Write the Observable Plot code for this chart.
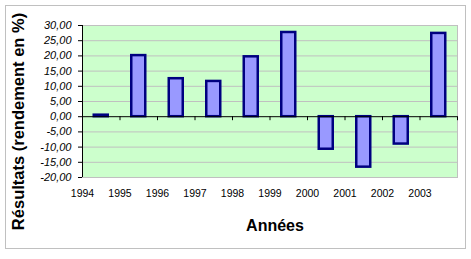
<!DOCTYPE html>
<html><head><meta charset="utf-8">
<script src="https://cdn.jsdelivr.net/npm/d3@7"></script>
<script src="https://cdn.jsdelivr.net/npm/@observablehq/plot@0.6"></script>
<style>
body{margin:0;background:#fff;}
#wrap{position:relative;width:471px;height:259px;overflow:hidden;}
#wrap svg{position:absolute;left:0;top:0;}
#border{position:absolute;left:5px;top:5px;width:459px;height:242px;border:1px solid #c0c0c0;pointer-events:none;}
</style></head><body><div id="wrap"><div id="border"></div></div>
<script>
const years = [1994, 1995, 1996, 1997, 1998, 1999, 2000, 2001, 2002, 2003];
const values = [0.5, 20.1, 12.5, 11.6, 19.7, 27.7, -10.7, -16.6, -9.0, 27.4];
const yTicks = [-20, -15, -10, -5, 0, 5, 10, 15, 20, 25, 30];
const gridValues = [-15, -10, -5, 5, 10, 15, 20, 25];
const boundaries = [1995, 1996, 1997, 1998, 1999, 2000, 2001, 2002, 2003, 2004];
const yTitle = "Résultats (rendement en %)";
const xTitle = "Années";

const data = years.map((year, i) => ({year, value: values[i]}));
const font = "Arial, 'Liberation Sans', sans-serif";

const chart = Plot.plot({
  width: 471,
  height: 259,
  marginLeft: 82,
  marginRight: 14,
  marginTop: 25,
  marginBottom: 82,
  style: {background: "transparent", fontFamily: font, color: "#000"},
  x: {type: "linear", domain: [1994, 2004]},
  y: {domain: [-20, 30]},
  marks: [
    Plot.frame({fill: "#ccffcc", stroke: "#c0c0c0"}),
    Plot.ruleY(gridValues, {stroke: "#c0c0c0", strokeWidth: 1}),
    Plot.rectY(data, {x: "year", y: "value", interval: 1, insetLeft: 11.75, insetRight: 11.75,
      fill: "#9999ff", stroke: "#000080", strokeWidth: 2.5}),
    Plot.ruleY([0], {stroke: "#000", strokeWidth: 1}),
    Plot.ruleX(boundaries, {x: d => d, y1: 0, y2: 0, insetBottom: -4, stroke: "#000"}),
    Plot.ruleX([1994], {stroke: "#000", strokeWidth: 1}),
    Plot.axisY({ticks: yTicks, tickSize: 4, tickPadding: 7, fontSize: 11, fontStyle: "italic",
      tickFormat: d => d.toFixed(2).replace(".", ","), label: null}),
    Plot.axisX({ticks: years, tickSize: 0, tickPadding: 12, fontSize: 10.5,
      tickFormat: d => String(d), label: null}),
    Plot.text([yTitle], {frameAnchor: "left", dx: -64, dy: 20, rotate: -90,
      textAnchor: "middle", lineAnchor: "middle",
      fontSize: 16.5, fontWeight: "bold", fill: "#000"}),
    Plot.text([xTitle], {frameAnchor: "bottom", dx: 5, dy: 48,
      textAnchor: "middle", lineAnchor: "middle",
      fontSize: 16, fontWeight: "bold", fill: "#000"})
  ]
});
document.getElementById("wrap").prepend(chart);
</script>
</body></html>
